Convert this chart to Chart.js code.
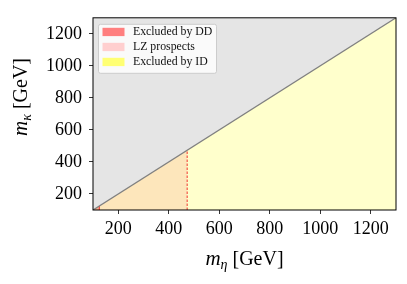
<!DOCTYPE html>
<html>
<head>
<meta charset="utf-8">
<script src="https://cdn.jsdelivr.net/npm/chart.js@4.4.0/dist/chart.umd.min.js"></script>
<style>
html,body{margin:0;padding:0;background:#fff}
#wrap{width:407px;height:284px;position:relative}
</style>
</head>
<body>
<div id="wrap"><canvas id="myChart"></canvas></div>
<script>
// values
const xTicks = [200, 400, 600, 800, 1000, 1200];
const yTicks = [200, 400, 600, 800, 1000, 1200];
const massRange = [100, 1300];       // m_eta = m_kappa diagonal
const ddLimit = 125;                 // excluded by direct detection
const lzLimit = 473;                 // LZ prospects reach
const legendLabels = ['Excluded by DD', 'LZ prospects', 'Excluded by ID'];
const legendColors = ['#ff7f7f', '#ffcfcf', '#ffff73'];

const serif = '"Liberation Serif", "DejaVu Serif", serif';

function diag(a, b){ return [{x:a, y:a}, {x:b, y:b}]; }

function mathTitle(ctx, sub, cx, y){
    ctx.font = 'italic 21px ' + serif;
    let w1 = ctx.measureText('m').width;
    ctx.font = 'italic 14px ' + serif;
    let w2 = ctx.measureText(sub).width;
    ctx.font = '20px ' + serif;
    let w3 = ctx.measureText(' [GeV]').width;
    let x = cx - (w1 + w2 + w3) / 2;
    ctx.font = 'italic 21px ' + serif;
    ctx.fillText('m', x, y);
    ctx.font = 'italic 14px ' + serif;
    ctx.fillText(sub, x + w1, y + 4);
    ctx.font = '20px ' + serif;
    ctx.fillText(' [GeV]', x + w1 + w2, y);
}

const extras = {
    id: 'extras',
    afterDraw(chart){
        const ctx = chart.ctx, a = chart.chartArea;
        ctx.save();
        ctx.strokeStyle = '#000';
        ctx.lineWidth = 1;
        ctx.strokeRect(a.left, a.top, a.right - a.left, a.bottom - a.top);

        // legend
        ctx.fillStyle = 'rgba(255,255,255,0.8)';
        ctx.strokeStyle = '#cccccc';
        ctx.beginPath();
        ctx.roundRect(a.left + 5.5, a.top + 6.5, 118, 49, 2);
        ctx.fill();
        ctx.stroke();
        ctx.font = '11.8px ' + serif;
        ctx.textBaseline = 'middle';
        legendLabels.forEach((t, i) => {
            let y = a.top + 10 + i * 15;
            ctx.fillStyle = legendColors[i];
            ctx.fillRect(a.left + 9.5, y, 22, 8.3);
            ctx.fillStyle = '#111';
            ctx.fillText(t, a.left + 40, y + 4.5);
        });

        // axis titles
        ctx.fillStyle = '#000';
        ctx.textBaseline = 'alphabetic';
        mathTitle(ctx, 'η', (a.left + a.right) / 2, 265);
        ctx.translate(27, 97);
        ctx.rotate(-Math.PI / 2);
        mathTitle(ctx, 'κ', 0, 0);
        ctx.restore();
    }
};

let ctx = document.getElementById('myChart');

new Chart(ctx, {
    type: 'line',
    data: {
        datasets: [
            {   // kinematically forbidden region above the diagonal
                data: diag(massRange[0], massRange[1]),
                fill: 'end',
                backgroundColor: '#e5e5e5',
                borderColor: '#808080',
                borderWidth: 1.3,
                order: 1
            },
            {
                label: legendLabels[2],
                data: diag(massRange[0], massRange[1]),
                fill: 'start',
                backgroundColor: '#ffffcc',
                borderWidth: 0,
                order: 5
            },
            {
                label: legendLabels[1],
                data: diag(massRange[0], lzLimit),
                fill: 'start',
                backgroundColor: '#fde6bb',
                borderWidth: 0,
                order: 4
            },
            {
                label: legendLabels[0],
                data: diag(massRange[0], ddLimit),
                fill: 'start',
                backgroundColor: '#f7b08c',
                borderWidth: 0,
                order: 3
            },
            {   // LZ reach edge
                data: [{x: lzLimit, y: massRange[0]}, {x: lzLimit, y: lzLimit}],
                fill: false,
                borderColor: '#f02020',
                borderWidth: 0.9,
                borderDash: [2.5, 1.5],
                order: 2
            },
            {   // DD edge
                data: [{x: ddLimit, y: massRange[0]}, {x: ddLimit, y: ddLimit}],
                fill: false,
                borderColor: '#ee3030',
                borderWidth: 1,
                order: 2
            }
        ]
    },
    options: {
        responsive: true,
        maintainAspectRatio: false,
        animation: false,
        elements: { point: { radius: 0 }, line: { tension: 0 } },
        layout: { padding: { left: 0, right: 11, top: 11, bottom: 0 } },
        plugins: { legend: { display: false }, tooltip: { enabled: false } },
        scales: {
            x: {
                type: 'linear',
                min: massRange[0],
                max: massRange[1],
                afterBuildTicks: s => { s.ticks = xTicks.map(v => ({value: v})); },
                afterFit: s => { s.height = 74; },
                grid: { drawOnChartArea: false, drawTicks: true, tickLength: 4, color: '#000', lineWidth: 0.8 },
                border: { display: false },
                ticks: { color: '#000', padding: 4, maxRotation: 0, font: { family: serif, size: 18 },
                         callback: v => String(v) }
            },
            y: {
                type: 'linear',
                min: massRange[0],
                max: massRange[1],
                afterBuildTicks: s => { s.ticks = yTicks.map(v => ({value: v})); },
                afterFit: s => { s.width = 93; },
                grid: { drawOnChartArea: false, drawTicks: true, tickLength: 4, color: '#000', lineWidth: 0.8 },
                border: { display: false },
                ticks: { color: '#000', padding: 7, font: { family: serif, size: 18 },
                         callback: v => String(v) }
            }
        }
    },
    plugins: [extras]
});
</script>
</body>
</html>
